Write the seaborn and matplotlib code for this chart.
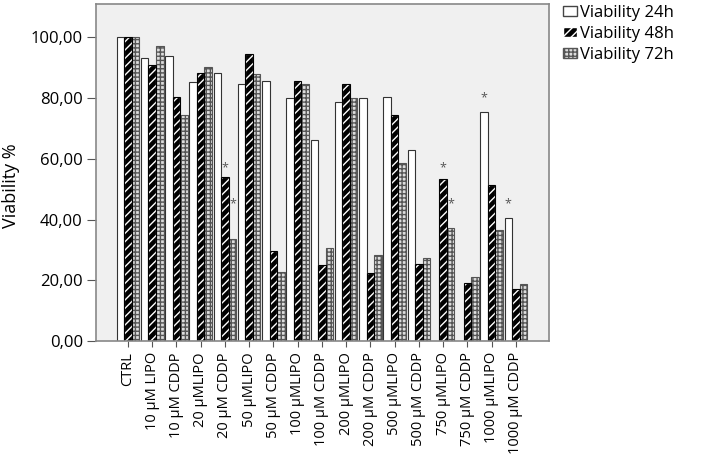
import numpy as np
import pandas as pd
import matplotlib
matplotlib.use('Agg')
import matplotlib.pyplot as plt
import matplotlib.patches as mpatches
import seaborn as sns

conditions = ['CTRL', '10 µM LIPO', '10 µM CDDP', '20 µMLIPO', '20 µM CDDP',
              '50 µMLIPO', '50 µM CDDP', '100 µMLIPO', '100 µM CDDP',
              '200 µMLIPO', '200 µM CDDP', '500 µMLIPO', '500 µM CDDP',
              '750 µMLIPO', '750 µM CDDP', '1000 µMLIPO', '1000 µM CDDP']
viability_24h = [100, 93.3, 93.8, 85.3, 88.3, 84.7, 85.6, 80.0, 66.2,
                 78.8, 79.9, 80.3, 62.8, np.nan, np.nan, 75.3, 40.5]
viability_48h = [100, 90.8, 80.3, 88.3, 53.9, 94.5, 29.8, 85.7, 24.9,
                 84.5, 22.3, 74.6, 25.3, 53.4, 19.0, 51.5, 17.1]
viability_72h = [100, 97.1, 74.6, 90.1, 33.6, 88.1, 22.7, 84.6, 30.6,
                 80.0, 28.4, 58.6, 27.5, 37.2, 21.2, 36.6, 18.8]
series = ['Viability 24h', 'Viability 48h', 'Viability 72h']

# significance marks: (condition, series index, height of the star)
stars = [('20 µM CDDP', 1, 57.1), ('20 µM CDDP', 2, 45.2),
         ('750 µMLIPO', 1, 57.1), ('750 µMLIPO', 2, 45.2),
         ('1000 µMLIPO', 0, 80.2), ('1000 µM CDDP', 0, 45.2)]

df = pd.DataFrame({'cond': conditions, series[0]: viability_24h,
                   series[1]: viability_48h, series[2]: viability_72h})
df = df.melt(id_vars='cond', var_name='series', value_name='value')

plt.rcParams['font.family'] = ['Open Sans', 'DejaVu Sans']
plt.rcParams['hatch.linewidth'] = 1.0

fig = plt.figure(figsize=(7.22, 4.58), dpi=100)
ax = fig.add_axes([96 / 722, 117 / 458, 453 / 722, 337 / 458])
ax.set_facecolor('#f0f0f0')

sns.barplot(data=df, x='cond', y='value', hue='series', order=conditions,
            hue_order=series, palette=['white', 'black', 'white'],
            edgecolor='#333333', linewidth=0.8, width=0.93, gap=0,
            errorbar=None, legend=False, ax=ax)

# 48h: black with white diagonal stripes, 72h: gray grid
for p in ax.containers[1].patches:
    p.set_facecolor('black')
    p.set_edgecolor('white')
    p.set_hatch('////')
    ax.add_patch(mpatches.Rectangle((p.get_x(), p.get_y()), p.get_width(), p.get_height(),
                                    fill=False, edgecolor='black', linewidth=0.8))
for p in ax.containers[2].patches:
    p.set_facecolor('#dddddd')
    p.set_edgecolor('#555555')
    p.set_hatch('++++')

for cond, s, h in stars:
    idx = conditions.index(cond)
    for p in ax.containers[s].patches:
        cx = p.get_x() + p.get_width() / 2
        if round(cx) == idx:
            ax.text(cx, h, '*', ha='center', va='center', fontsize=9, color='#555555')

ax.set_xlim(-1.32, 17.37)
ax.set_ylim(0, 111)
ax.set_yticks([0, 20, 40, 60, 80, 100])
ax.set_yticklabels([f'{v:.2f}'.replace('.', ',') for v in [0, 20, 40, 60, 80, 100]], fontsize=12)
ax.set_xticks(range(len(conditions)))
ax.set_xticklabels(conditions, rotation=90, fontsize=10.5)
ax.set_xlabel('')
ax.set_ylabel('Viability %', fontsize=13)
ax.yaxis.set_label_coords((20 - 96) / 453, 0.46)
ax.tick_params(axis='y', direction='out', length=6.5, color='#555555', pad=3)
ax.tick_params(axis='x', direction='out', length=4, color='#555555', pad=4)
for sp in ax.spines.values():
    sp.set_color('#888888')
    sp.set_linewidth(1.2)

handles = [mpatches.Patch(facecolor='white', edgecolor='#444444', label=series[0]),
           mpatches.Patch(facecolor='black', edgecolor='white', hatch='////', label=series[1]),
           mpatches.Patch(facecolor='#dddddd', edgecolor='#555555', hatch='++++', label=series[2])]
fig.legend(handles=handles, loc='upper left', bbox_to_anchor=(563 / 722, 453 / 458),
           frameon=False, fontsize=12, handlelength=0.85, handleheight=0.5,
           handletextpad=0.15, labelspacing=0.3, borderpad=0, borderaxespad=0)

fig.savefig('out.png', dpi=100)
